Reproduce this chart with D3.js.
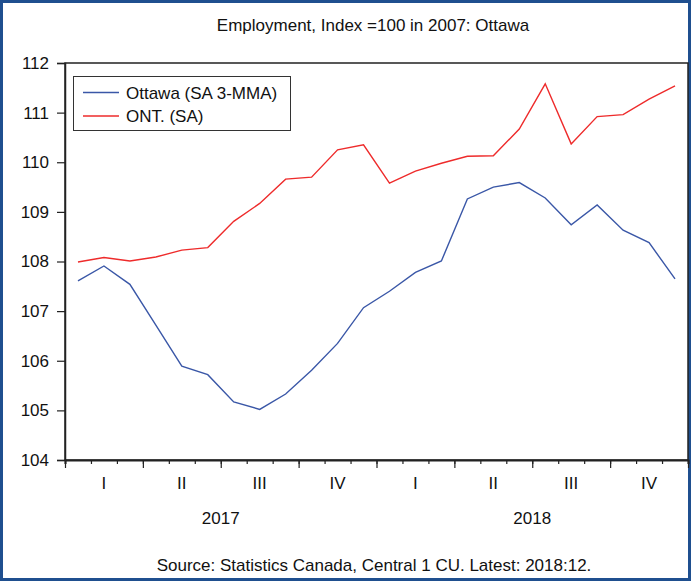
<!DOCTYPE html>
<html><head><meta charset="utf-8">
<script src="https://cdn.jsdelivr.net/npm/d3@7"></script>
<style>body{margin:0;background:#fff}svg{display:block}text{font-family:"Liberation Sans",Arial,sans-serif;fill:#111}</style>
</head><body><svg id="c" width="691" height="581"></svg>
<script>
const months = d3.range(24);
const ottawa = [107.61,107.91,107.54,106.72,105.89,105.72,105.17,105.02,105.33,105.81,106.35,107.07,107.40,107.78,108.01,109.26,109.50,109.59,109.28,108.74,109.14,108.63,108.38,107.65];
const ontario = [107.99,108.08,108.01,108.09,108.23,108.28,108.81,109.17,109.66,109.70,110.25,110.35,109.58,109.82,109.98,110.12,110.13,110.67,111.58,110.37,110.92,110.96,111.27,111.54];
const quarterLabels = ["I","II","III","IV","I","II","III","IV"];
const yearLabels = ["2017","2018"];
const yTicks = [104,105,106,107,108,109,110,111,112];
const seriesNames = ["Ottawa (SA 3-MMA)","ONT. (SA)"];
const colors = ["#3a57a7","#ee2b2b"];

const svg = d3.select("#c");
const L=65,R=688,T=63,B=460;
const x = d3.scaleLinear().domain([0,24]).range([L,R]);
const y = d3.scaleLinear().domain([104,112]).range([B,T]);

// outer border
svg.append("rect").attr("x",1.5).attr("y",1.5).attr("width",688).attr("height",578)
  .attr("fill","none").attr("stroke","#1f4f8f").attr("stroke-width",3);

svg.append("text").attr("x",373).attr("y",31).attr("text-anchor","middle")
  .style("font-size","17px").text("Employment, Index =100 in 2007: Ottawa");

// frame
svg.append("rect").attr("x",L).attr("y",T).attr("width",R-L).attr("height",B-T)
  .attr("fill","none").attr("stroke","#222").attr("stroke-width",1.5);

// y axis
const ya = svg.append("g").attr("transform",`translate(${L},0)`)
  .call(d3.axisLeft(y).tickValues(yTicks).tickSize(8).tickPadding(8).tickFormat(d3.format("d")));
ya.select(".domain").attr("stroke","#222").attr("stroke-width",1.5);
ya.selectAll(".tick line").attr("stroke","#222").attr("stroke-width",1.2);
ya.selectAll(".tick text").style("font-size","17px").style("font-family","Liberation Sans, Arial, sans-serif").attr("fill","#111");

// x axis minor & major
const xmin = svg.append("g").attr("transform",`translate(0,${B})`)
  .call(d3.axisBottom(x).tickValues(d3.range(0,25)).tickSize(4).tickFormat(""));
xmin.select(".domain").attr("stroke","#222").attr("stroke-width",2);
xmin.selectAll(".tick line").attr("stroke","#222").attr("stroke-width",1.2);
const xmaj = svg.append("g").attr("transform",`translate(0,${B})`)
  .call(d3.axisBottom(x).tickValues(d3.range(0,25,3)).tickSize(8).tickFormat(""));
xmaj.select(".domain").remove();
xmaj.selectAll(".tick line").attr("stroke","#222").attr("stroke-width",1.2);

svg.append("g").selectAll("text").data(quarterLabels).join("text")
  .attr("x",(d,i)=>x(i*3+1.5)).attr("y",489).attr("text-anchor","middle")
  .style("font-size","17px").text(d=>d);
svg.append("g").selectAll("text").data(yearLabels).join("text")
  .attr("x",(d,i)=>x(i*12+6)).attr("y",524).attr("text-anchor","middle")
  .style("font-size","17px").text(d=>d);

svg.append("text").attr("x",374).attr("y",571).attr("text-anchor","middle")
  .style("font-size","17px").text("Source: Statistics Canada, Central 1 CU. Latest: 2018:12.");

// lines
const line = d3.line().x((d,i)=>x(i+0.5)).y(d=>y(d));
[ottawa,ontario].forEach((s,k)=>{
  svg.append("path").datum(s).attr("d",line).attr("fill","none")
    .attr("stroke",colors[k]).attr("stroke-width",1.4);
});

// legend
const lg = svg.append("g");
lg.append("rect").attr("x",73.5).attr("y",76.5).attr("width",217).attr("height",54)
  .attr("fill","#fff").attr("stroke","#333").attr("stroke-width",1);
seriesNames.forEach((n,k)=>{
  const yy = 92.5 + k*23.5;
  lg.append("line").attr("x1",83).attr("x2",119).attr("y1",yy).attr("y2",yy)
    .attr("stroke",colors[k]).attr("stroke-width",1.4);
  lg.append("text").attr("x",126).attr("y",yy+6).style("font-size","17px").text(n);
});
</script></body></html>
